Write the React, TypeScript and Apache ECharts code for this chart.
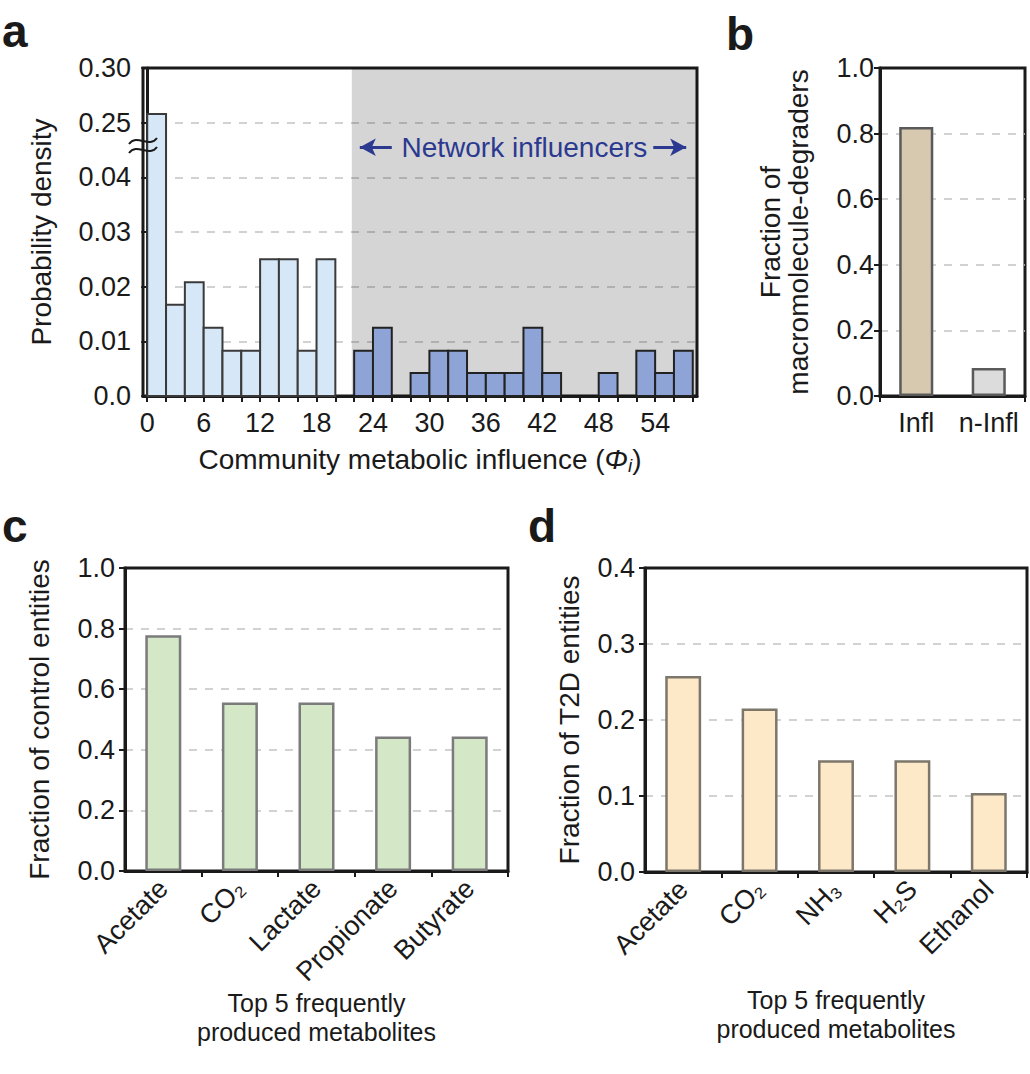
import React, { useEffect, useRef } from 'react';
import * as echarts from 'echarts';

const FONT = '"Liberation Sans", Arial, Helvetica, sans-serif';
const INK = '#1a1a1a';
const NAVY = '#2b3990';

// ---------- Panel a: histogram of community metabolic influence ----------
const binStartsLow = [0, 2, 4, 6, 8, 10, 12, 14, 16, 18];
const densityLow = [0.258, 0.0167, 0.0208, 0.0125, 0.0083, 0.0083, 0.025, 0.025, 0.0083, 0.025];
const binStartsHigh = [22, 24, 28, 30, 32, 34, 36, 38, 40, 42, 48, 52, 54, 56];
const densityHigh = [0.0083, 0.0125, 0.0042, 0.0083, 0.0083, 0.0042, 0.0042, 0.0042, 0.0125, 0.0042, 0.0042, 0.0083, 0.0042, 0.0083];
const BIN_WIDTH = 2;
const yTickLabelsA = ['0.0', '0.01', '0.02', '0.03', '0.04', '0.25', '0.30'];
const xTickValuesA = [0, 2, 4, 6, 8, 10, 12, 14, 16, 18, 20, 22, 24, 26, 28, 30, 32, 34, 36, 38, 40, 42, 44, 46, 48, 50, 52, 54, 56, 58];
const xLabelValuesA = [0, 6, 12, 18, 24, 30, 36, 42, 48, 54];
const X_MIN_A = -0.45;
const X_MAX_A = 58.45;
const influencerStart = 21.75;
const annotationY = 4.55; // in broken-axis units
const leftArrow = [22.6, 26.0];
const rightArrow = [53.8, 57.3];
const annotationTextX = 40.1;

// ---------- Panel b ----------
const bCategories = ['Infl', 'n-Infl'];
const bValues = [0.82, 0.085];
const bColors = ['#d6c9b0', '#dcdcdc'];

// ---------- Panel c ----------
const cCategories = ['Acetate', 'CO\u2082', 'Lactate', 'Propionate', 'Butyrate'];
const cValues = [0.778, 0.556, 0.556, 0.444, 0.444];

// ---------- Panel d ----------
const dCategories = ['Acetate', 'CO\u2082', 'NH\u2083', 'H\u2082S', 'Ethanol'];
const dValues = [0.258, 0.215, 0.147, 0.147, 0.104];

// broken y axis of panel a: 0..0.04 over 4 steps, 0.25..0.30 over 1 step
const breakMap = (v: number) => (v <= 0.04 ? v / 0.01 : 5 + (v - 0.25) / 0.05);

const histRender = (fill: string, stroke: string) => (params: any, api: any) => {
  const x0 = api.value(0);
  const y = api.value(1);
  const p0 = api.coord([x0, 0]);
  const p1 = api.coord([x0 + BIN_WIDTH, y]);
  return {
    type: 'rect',
    shape: { x: p0[0], y: p1[1], width: p1[0] - p0[0], height: p0[1] - p1[1] },
    style: { fill, stroke, lineWidth: 2 },
  };
};

const gridLine = { show: true, showMinLine: false, showMaxLine: false, lineStyle: { type: [8, 8], color: '#c4c4c4', width: 1.5 } };
const axisLineStyle = { show: true, lineStyle: { color: INK, width: 3 } };
const tickStyle = { show: true, length: 6, lineStyle: { color: INK, width: 2 } };
const catTick = { ...tickStyle, interval: (i: number) => i !== 0 };
const labelBase = { color: INK, fontSize: 27, fontFamily: FONT };
const nameBase = { color: INK, fontSize: 28, fontFamily: FONT };
const metTitle = { ...nameBase, fontSize: 25, lineHeight: 29 };

export default function App() {
  const ref = useRef<HTMLDivElement>(null);
  useEffect(() => {
    if (!ref.current) return;
    const chart = echarts.init(ref.current, undefined, { renderer: 'svg' });
    const gridBox = { show: true, borderColor: INK, borderWidth: 3, backgroundColor: 'transparent' };
    const option: any = {
      animation: false,
      textStyle: { fontFamily: FONT },
      grid: [
        { left: 143, top: 68, width: 554, height: 328, ...gridBox },
        { left: 880, top: 68, width: 145, height: 328, ...gridBox },
        { left: 125, top: 568, width: 383, height: 303, ...gridBox },
        { left: 645, top: 568, width: 382, height: 304, ...gridBox },
      ],
      xAxis: [
        {
          gridIndex: 0,
          type: 'value',
          min: X_MIN_A,
          max: X_MAX_A,
          axisLine: axisLineStyle,
          axisTick: { ...tickStyle, customValues: xTickValuesA },
          axisLabel: { ...labelBase, margin: 13, customValues: xLabelValuesA },
          splitLine: { show: false },
          name: '{t|Community metabolic influence (}{p|\u03A6}{s|i}{t|)}',
          nameLocation: 'middle',
          nameGap: 48,
          nameTextStyle: {
            ...nameBase,
            rich: {
              t: { fontSize: 28, fontFamily: FONT, color: INK, lineHeight: 30 },
              p: { fontSize: 28, fontFamily: FONT, color: INK, fontStyle: 'italic', lineHeight: 30 },
              s: { fontSize: 19, fontFamily: FONT, color: INK, fontStyle: 'italic', lineHeight: 20, padding: [13, 0, 0, 0] },
            },
          },
        },
        {
          gridIndex: 1,
          type: 'category',
          data: bCategories,
          axisLine: axisLineStyle,
          axisTick: catTick,
          axisLabel: { ...labelBase, margin: 13, interval: 0 },
        },
        {
          gridIndex: 2,
          type: 'category',
          data: cCategories,
          axisLine: axisLineStyle,
          axisTick: catTick,
          axisLabel: { ...labelBase, margin: 13, rotate: 45, interval: 0 },
          name: 'Top 5 frequently\nproduced metabolites',
          nameLocation: 'middle',
          nameGap: 114,
          nameTextStyle: metTitle,
        },
        {
          gridIndex: 3,
          type: 'category',
          data: dCategories,
          axisLine: axisLineStyle,
          axisTick: catTick,
          axisLabel: { ...labelBase, margin: 13, rotate: 45, interval: 0 },
          name: 'Top 5 frequently\nproduced metabolites',
          nameLocation: 'middle',
          nameGap: 113,
          nameTextStyle: metTitle,
        },
      ],
      yAxis: [
        {
          gridIndex: 0,
          type: 'value',
          min: 0,
          max: 6,
          interval: 1,
          axisLine: axisLineStyle,
          axisTick: tickStyle,
          axisLabel: { ...labelBase, margin: 12, formatter: (v: number) => yTickLabelsA[Math.round(v)] },
          splitLine: gridLine,
          name: 'Probability density',
          nameLocation: 'middle',
          nameGap: 88,
          nameTextStyle: nameBase,
        },
        {
          gridIndex: 1,
          type: 'value',
          min: 0,
          max: 1,
          interval: 0.2,
          axisLine: axisLineStyle,
          axisTick: tickStyle,
          axisLabel: { ...labelBase, margin: 6, formatter: (v: number) => v.toFixed(1) },
          splitLine: gridLine,
          name: 'Fraction of\nmacromolecule-degraders',
          nameLocation: 'middle',
          nameGap: 68,
          nameTextStyle: { ...nameBase, lineHeight: 28 },
        },
        {
          gridIndex: 2,
          type: 'value',
          min: 0,
          max: 1,
          interval: 0.2,
          axisLine: axisLineStyle,
          axisTick: tickStyle,
          axisLabel: { ...labelBase, margin: 10, formatter: (v: number) => v.toFixed(1) },
          splitLine: gridLine,
          name: 'Fraction of control entities',
          nameLocation: 'middle',
          nameGap: 72,
          nameTextStyle: nameBase,
        },
        {
          gridIndex: 3,
          type: 'value',
          min: 0,
          max: 0.4,
          interval: 0.1,
          axisLine: axisLineStyle,
          axisTick: tickStyle,
          axisLabel: { ...labelBase, margin: 10, formatter: (v: number) => v.toFixed(1) },
          splitLine: gridLine,
          name: 'Fraction of T2D entities',
          nameLocation: 'middle',
          nameGap: 62,
          nameTextStyle: nameBase,
        },
      ],
      series: [
        {
          type: 'line',
          xAxisIndex: 0,
          yAxisIndex: 0,
          data: [],
          z: 1,
          silent: true,
          markArea: {
            silent: true,
            itemStyle: { color: 'rgba(0,0,0,0.165)' },
            data: [[{ xAxis: influencerStart, yAxis: 0 }, { xAxis: X_MAX_A, yAxis: 6 }]],
          },
          markLine: {
            silent: true,
            symbolSize: [13, 16],
            lineStyle: { color: NAVY, width: 3, type: 'solid' },
            label: { show: false },
            data: [
              [
                { coord: [leftArrow[0], annotationY], symbol: 'arrow' },
                { coord: [leftArrow[1], annotationY], symbol: 'none' },
              ],
              [
                { coord: [rightArrow[0], annotationY], symbol: 'none' },
                { coord: [rightArrow[1], annotationY], symbol: 'arrow' },
              ],
            ],
          },
          markPoint: {
            silent: true,
            symbol: 'circle',
            symbolSize: 0,
            label: {
              show: true,
              position: 'inside',
              color: NAVY,
              fontSize: 28,
              fontFamily: FONT,
              formatter: 'Network influencers',
            },
            data: [{ coord: [annotationTextX, annotationY] }],
          },
        },
        {
          type: 'custom',
          xAxisIndex: 0,
          yAxisIndex: 0,
          z: 3,
          renderItem: histRender('#d6e7f8', '#3a3a3a'),
          data: binStartsLow.map((s, i) => [s, breakMap(densityLow[i])]),
        },
        {
          type: 'custom',
          xAxisIndex: 0,
          yAxisIndex: 0,
          z: 3,
          renderItem: histRender('#8ea3d6', '#222222'),
          data: binStartsHigh.map((s, i) => [s, breakMap(densityHigh[i])]),
        },
        {
          type: 'bar',
          xAxisIndex: 1,
          yAxisIndex: 1,
          barWidth: '47%',
          data: bValues.map((v, i) => ({ value: v, itemStyle: { color: bColors[i] } })),
          itemStyle: { borderColor: '#5a5a5a', borderWidth: 2.5 },
        },
        {
          type: 'bar',
          xAxisIndex: 2,
          yAxisIndex: 2,
          barWidth: '47%',
          data: cValues,
          itemStyle: { color: '#d4e8c8', borderColor: '#7b7b7b', borderWidth: 2.5 },
        },
        {
          type: 'bar',
          xAxisIndex: 3,
          yAxisIndex: 3,
          barWidth: '47%',
          data: dValues,
          itemStyle: { color: '#fde9c8', borderColor: '#7d776b', borderWidth: 2.5 },
        },
      ],
      graphic: [
        { type: 'text', x: 2, y: 31, style: { text: 'a', font: `bold 46px ${FONT}`, fill: INK, verticalAlign: 'middle' } },
        { type: 'text', x: 726, y: 34, style: { text: 'b', font: `bold 46px ${FONT}`, fill: INK, verticalAlign: 'middle' } },
        { type: 'text', x: 2, y: 526, style: { text: 'c', font: `bold 46px ${FONT}`, fill: INK, verticalAlign: 'middle' } },
        { type: 'text', x: 528, y: 526, style: { text: 'd', font: `bold 46px ${FONT}`, fill: INK, verticalAlign: 'middle' } },
        {
          type: 'bezierCurve',
          z: 10,
          shape: { x1: 129, y1: 144, cpx1: 137, cpy1: 133, cpx2: 149, cpy2: 149, x2: 157, y2: 138 },
          style: { stroke: INK, lineWidth: 2, fill: null },
        },
        {
          type: 'bezierCurve',
          z: 10,
          shape: { x1: 129, y1: 153, cpx1: 137, cpy1: 142, cpx2: 149, cpy2: 158, x2: 157, y2: 147 },
          style: { stroke: INK, lineWidth: 2, fill: null },
        },
      ],
    };
    chart.setOption(option);
    return () => chart.dispose();
  }, []);
  return <div ref={ref} style={{ position: 'absolute', left: 0, top: 0, width: 1030, height: 1074, background: '#fff' }} />;
}
